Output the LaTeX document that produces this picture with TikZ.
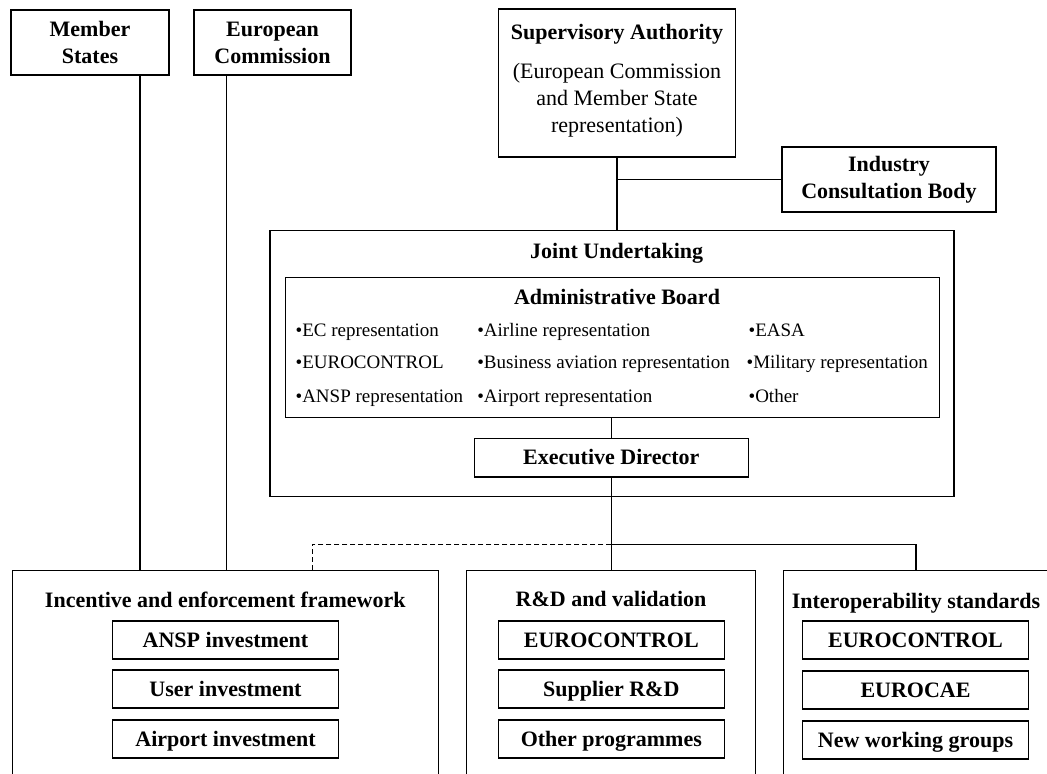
\documentclass[tikz,border=0pt]{standalone}
\usepackage{fontspec}
\setmainfont{Liberation Serif}
\begin{document}
\begin{tikzpicture}[x=0.5pt,y=-0.5pt,line width=0.6pt,
    every node/.append style={inner sep=0pt,align=center,font=\fontsize{11}{13.5}\selectfont},
    box/.style={draw},
    head/.style={font=\bfseries\fontsize{11}{13.5}\selectfont},
    oneline/.style={text height=8.5pt,text depth=1.5pt},
    subbox/.style={box,head,oneline,minimum width=113pt,minimum height=19pt},
    entry/.style={anchor=west,text height=6.6pt,text depth=2.1pt,font=\fontsize{9.5}{11.5}\selectfont}]
    \useasboundingbox (0,0) rectangle (1047,774);
    \clip (0,0) rectangle (1047,774);

    \node[box,head,minimum width=79pt,minimum height=32.5pt] (ms) at (90,42.5) {Member\\States};
    \node[box,head,minimum width=78.5pt,minimum height=32.5pt] (ec) at (272.5,42.5) {European\\Commission};
    \node[box,minimum width=118.5pt,minimum height=74pt] (sa) at (617,83) {};
    \node (satext) at ([yshift=1pt]sa.center) {\textbf{Supervisory Authority}\\[6pt](European Commission\\and Member State\\representation)};
    \node[box,head,minimum width=107pt,minimum height=32.5pt] (ind) at (889,179.5) {Industry\\Consultation Body};

    \node[box,minimum width=342pt,minimum height=133pt] (ju) at (612,363.7) {};
    \node[head,oneline] (jutitle) at (616.7,251.7) {Joint Undertaking};
    \node[box,minimum width=326.8pt,minimum height=69.8pt] (board) at (612.5,347.5) {};
    \node[head,oneline] (boardtitle) at (617,298) {Administrative Board};
    \node[entry] (ecrep) at (295,331.7) {•EC representation};
    \node[entry] (eurocontrol) at (295,364.3) {•EUROCONTROL};
    \node[entry] (ansprep) at (295,398.3) {•ANSP representation};
    \node[entry] (airlinerep) at (476.7,331.7) {•Airline representation};
    \node[entry] (busrep) at (476.7,364.3) {•Business aviation representation};
    \node[entry] (airportrep) at (476.7,398.3) {•Airport representation};
    \node[entry] (easa) at (748,331.7) {•EASA};
    \node[entry] (milrep) at (746,364.3) {•Military representation};
    \node[entry] (other) at (748,398.3) {•Other};
    \node[box,head,oneline,minimum width=137pt,minimum height=19.2pt] (ed) at (611.3,457.8) {Executive Director};

    \node[box,minimum width=213pt,minimum height=115pt] (fw) at (225.3,685.5) {};
    \node[head,oneline] (fwtitle) at (225.3,600) {Incentive and enforcement framework};
    \node[subbox] (ansp) at (225.5,640) {ANSP investment};
    \node[subbox] (user) at (225.5,689) {User investment};
    \node[subbox] (airport) at (225.5,739) {Airport investment};

    \node[box,minimum width=144.3pt,minimum height=115pt] (rd) at (611,685.5) {};
    \node[head,oneline] (rdtitle) at (611,599) {R\&D and validation};
    \node[subbox] (rdeuro) at (611.3,640) {EUROCONTROL};
    \node[subbox] (supplier) at (611.3,689) {Supplier R\&D};
    \node[subbox] (programmes) at (611.3,739) {Other programmes};

    \node[box,minimum width=132.7pt,minimum height=115pt] (ios) at (916,685.5) {};
    \node[head,oneline] (iostitle) at (916,601) {Interoperability standards};
    \node[subbox] (ioseuro) at (915.5,640) {EUROCONTROL};
    \node[subbox] (eurocae) at (915.5,690) {EUROCAE};
    \node[subbox] (groups) at (915.5,740) {New working groups};

    \coordinate (split) at (ed.south |- 0,544.3);
    \draw ([xshift=25pt]ms.south) -- ([xshift=25pt]ms.south |- fw.north);
    \draw ([xshift=-23.1pt]ec.south) -- ([xshift=-23.1pt]ec.south |- fw.north);
    \draw (sa.south) -- (sa.south |- ju.north);
    \draw (ind.west) -- (ind.west -| sa.south);
    \draw (ed.north |- board.south) -- (ed.north);
    \draw (ed.south) -- (ed.south |- rd.north);
    \draw (split) -| (ios.north);
    \draw[dash pattern=on 2.5pt off 1.5pt] (split) -| ([xshift=-63.3pt]fw.north east);
\end{tikzpicture}
\end{document}
